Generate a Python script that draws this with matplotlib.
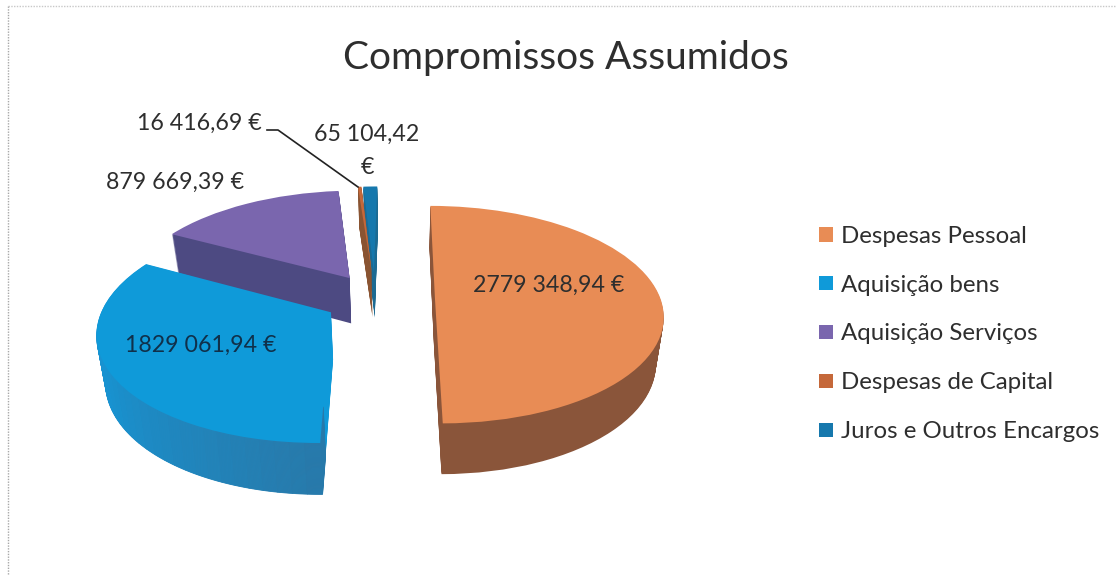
import numpy as np
import matplotlib
matplotlib.use("Agg")
import matplotlib.pyplot as plt
from matplotlib.colors import to_rgb
from matplotlib.patches import Patch, Wedge
from matplotlib.transforms import Transform


# Data
categories = ["Despesas Pessoal", "Aquisição bens", "Aquisição Serviços",
              "Despesas de Capital", "Juros e Outros Encargos"]
values = [2779348.94, 1829061.94, 879669.39, 16416.69, 65104.42]
value_labels = ["2779 348,94 €", "1829 061,94 €", "879 669,39 €",
                "16 416,69 €", "65 104,42\n€"]

# Colours: top face, wall
top_colors = ["#e88c55", "#0f9ad9", "#7a66ae", "#c5683a", "#1678ad"]
wall_colors = ["#8a553a", "#1c8cc8", "#4d4a82", "#8a5432", "#1c6a92"]

# Where each slice sits on the pie plane (explosion)
centers = [(0.155, -0.04), (-0.30, -0.17), (-0.23, 0.155), (-0.13, 0.21), (-0.12, 0.21)]

# Perspective of the pie plane, in pixels
XC, YC = 400, 294
RX, RY = 224, 105
K = 0.15
DEPTH = 46
LAYERS = 50


class Persp(Transform):
    input_dims = 2
    output_dims = 2

    def __init__(self, h=0.0):
        super().__init__()
        self.h = h

    def transform_non_affine(self, xy):
        xy = np.asarray(xy)
        u, v = xy[:, 0], xy[:, 1]
        w = 1 + K * v
        # lower layers are further away, so a bit narrower
        return np.column_stack([XC + RX * u / w * (1 - 0.03 * self.h),
                                YC - RY * v / w + self.h * DEPTH * (1 - 0.1 * v)])


fig = plt.figure(figsize=(11.2, 5.81), dpi=100)
ax = fig.add_axes([0, 0, 1, 1])
plt.rcParams["font.family"] = ["Lato", "DejaVu Sans"]


def slice_at(i, h, color):
    # One slice of the pie, moved onto the perspective plane
    wedges, _ = ax.pie(values, startangle=90, counterclock=False,
                       center=centers[i], colors=[color] * len(values),
                       wedgeprops={"linewidth": 0})
    for j, wedge in enumerate(wedges):
        if j != i:
            wedge.remove()
    wedges[i].set_transform(Persp(h) + ax.transData)
    return wedges[i]


# Back slices first, front slices last
for i in [4, 3, 2, 1, 0]:
    for h in np.linspace(1, 0, LAYERS)[:-1]:
        if i == 1:
            # Aquisição bens wall only along the arc, darker towards the right
            wedge = slice_at(i, h, top_colors[i])
            edges = np.linspace(wedge.theta1, wedge.theta2, 37)
            for a, b in zip(edges[:-1], edges[1:]):
                t = max(0, ((a - wedge.theta1) / (wedge.theta2 - wedge.theta1) - 0.45) / 0.55)
                shade = (1 - t) * np.array(to_rgb("#1a92d0")) + t * np.array(to_rgb("#2a78a8"))
                piece = Wedge(wedge.center, 1, a, b, width=0.25, fc=shade, ec=shade, lw=0.6,
                              transform=Persp(h) + ax.transData)
                ax.add_patch(piece)
        else:
            slice_at(i, h, wall_colors[i])
    slice_at(i, 0, top_colors[i])

ax.set_aspect("auto")
ax.set_xlim(0, 1120)
ax.set_ylim(581, 0)
ax.axis("off")

# Scanned frame
ax.plot([8, 8], [6, 575], color="#a8a8a8", lw=1, ls=(0, (1, 1)))
ax.plot([8, 1115], [6, 6], color="#c8c8c8", lw=1, ls=(0, (1, 1)))

text_color = "#2e2e2e"
ax.text(566, 58, "Compromissos Assumidos", fontsize=28, color=text_color,
        ha="center", va="center")

ax.text(549, 285.5, value_labels[0], fontsize=16.7, color=text_color, ha="center", va="center")
ax.text(201, 345.5, value_labels[1], fontsize=16.7, color="#10304a", ha="center", va="center")
ax.text(175, 182.5, value_labels[2], fontsize=16.7, color=text_color, ha="center", va="center")
ax.text(199, 123.5, value_labels[3], fontsize=16.7, color=text_color, ha="center", va="center")
ax.text(367, 151, value_labels[4], fontsize=16.7, color=text_color, ha="center", va="center",
        linespacing=1.73)

# Leader line of the small slice
ax.plot([267, 278, 358], [130, 130, 187], color="#222222", lw=1.2)

# Legend
handles = [Patch(facecolor=c, edgecolor="none") for c in top_colors]
ax.legend(handles, categories, loc="center left", bbox_to_anchor=(819 / 1120, 1 - 334 / 581),
          frameon=False, fontsize=17.3, labelcolor=text_color, labelspacing=1.165,
          handlelength=0.58, handleheight=0.58, handletextpad=0.35, borderpad=0, borderaxespad=0)

fig.savefig("out.png", dpi=100)
